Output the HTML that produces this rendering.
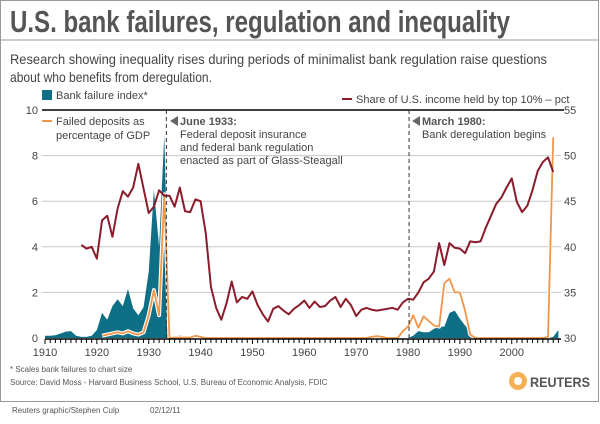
<!DOCTYPE html>
<html><head><meta charset="utf-8"><style>
body{margin:0;width:600px;height:419px;background:#fff;font-family:"Liberation Sans",sans-serif;overflow:hidden}
</style></head><body>
<svg width="600" height="419" viewBox="0 0 600 419" xmlns="http://www.w3.org/2000/svg" font-family="Liberation Sans, sans-serif">
<rect x="0.5" y="0.5" width="598" height="401" fill="#fff" stroke="#999"/>
<text x="10" y="32" font-size="31" font-weight="bold" fill="#555" textLength="500" lengthAdjust="spacingAndGlyphs">U.S. bank failures, regulation and inequality</text>
<line x1="1" y1="40" x2="598" y2="40" stroke="#999"/>
<text x="10" y="64" font-size="14" fill="#444" textLength="537" lengthAdjust="spacingAndGlyphs">Research showing inequality rises during periods of minimalist bank regulation raise questions</text>
<text x="10" y="82" font-size="14" fill="#444" textLength="202" lengthAdjust="spacingAndGlyphs">about who benefits from deregulation.</text>
<g id="grid"></g>
<g id="marks"></g>
<g id="axes"></g>
<rect x="42" y="90" width="10" height="10" fill="#0e6f86"/>
<text x="56" y="99" font-size="11" fill="#444">Bank failure index*</text>
<line x1="42" y1="121" x2="52" y2="121" stroke="#f0964a" stroke-width="2"/>
<text x="56" y="125" font-size="11" fill="#444">Failed deposits as</text>
<text x="56" y="139" font-size="11" fill="#444">percentage of GDP</text>
<line x1="342" y1="99" x2="352" y2="99" stroke="#8b1c2c" stroke-width="2"/>
<text x="356" y="103" font-size="11" fill="#444">Share of U.S. income held by top 10% – pct</text>
<polygon points="170,121 178,116 178,126" fill="#666"/>
<text x="180" y="125" font-size="11" font-weight="bold" fill="#555">June 1933:</text>
<text x="180" y="138" font-size="11" fill="#444">Federal deposit insurance</text>
<text x="180" y="151" font-size="11" fill="#444">and federal bank regulation</text>
<text x="180" y="164" font-size="11" fill="#444">enacted as part of Glass-Steagall</text>
<polygon points="412,121 420,116 420,126" fill="#666"/>
<text x="422" y="125" font-size="11" font-weight="bold" fill="#555">March 1980:</text>
<text x="422" y="138" font-size="11" fill="#444">Bank deregulation begins</text>
<text x="10" y="372" font-size="8" fill="#555">* Scales bank failures to chart size</text>
<text x="10" y="385" font-size="8" fill="#555">Source: David Moss - Harvard Business School, U.S. Bureau of Economic Analysis, FDIC</text>
<circle cx="518" cy="381" r="9" fill="#f5a33a" opacity="0.85"/>
<circle cx="518" cy="381" r="4" fill="#fff"/>
<text x="530" y="387" font-size="14" font-weight="bold" fill="#555" textLength="60" lengthAdjust="spacingAndGlyphs">REUTERS</text>
<text x="12" y="413" font-size="8" fill="#555">Reuters graphic/Stephen Culp</text>
<text x="150" y="413" font-size="8" fill="#555">02/12/11</text>
</svg>
<script>
const incomeYears=[];for(let y=1917;y<=2008;y++)incomeYears.push(y);
const incomeShare=[40.2,39.8,40.0,38.7,42.9,43.4,41.1,44.2,46.1,45.5,46.5,49.1,46.4,43.7,44.4,46.2,45.6,45.6,44.4,46.5,43.9,43.8,45.2,45.0,41.5,35.6,33.3,32.0,33.8,36.2,33.9,34.5,34.3,35.1,33.6,32.6,31.8,33.2,33.5,33.0,32.6,33.2,33.6,
34.1,33.3,34.0,33.4,33.5,34.1,34.5,33.4,34.3,33.6,32.4,33.1,33.3,33.1,33.0,33.1,33.2,33.3,33.1,33.9,34.3,34.2,35.0,36.1,36.5,37.3,40.4,38.0,40.4,39.9,39.8,39.3,40.6,40.5,40.6,42.1,43.4,44.7,45.4,46.5,47.5,44.9,43.8,44.5,46.2,48.3,49.3,49.8,48.2];
const bankYears=[];for(let y=1910;y<=2009;y++)bankYears.push(y);
const bankFailure=[0.1,0.1,0.12,0.2,0.28,0.3,0.1,0.05,0.05,0.1,0.35,1.1,0.8,1.4,1.7,1.4,2.15,1.3,1.0,1.35,2.9,6.5,4.0,8.9,0.05,0.1,0.12,0.1,0.08,0.1,0.05,
0,0,0,0,0,0,0,0,0,0,0,0,0,0,0,0,0,0,0,0,0,0,0,0,0,0,0,0,0,0,0,0,0,0,0,0,0,0,0,0,
0.1,0.3,0.25,0.25,0.4,0.5,0.5,1.1,1.2,0.85,0.55,0.3,0.05,0,0,0,0,0,0,0,0,0,0,0,0,0,0,0.05,0.35];
const depYears=[];for(let y=1921;y<=2009;y++)depYears.push(y);
const failedDeposits=[0.1,0.15,0.2,0.25,0.2,0.3,0.2,0.15,0.25,1.0,2.1,1.0,6.3,0,0.02,0.02,0.02,0.02,0.1,0.05,
0,0,0,0,0,0,0,0,0,0,0,0,0,0,0,0,0,0,0,0,0,0,0,0,0,0,0,0,0,0,0,0,0.05,0.08,0.05,0,0,0,
0.3,0.5,1.0,0.45,0.95,0.75,0.55,0.5,2.4,2.6,2.0,2.0,1.2,0.15,0,0,0,0,0,0,0,0,0,0,0,0,0,0,0.05,8.8];
const leftTicks=[0,2,4,6,8,10];
const rightTicks=[30,35,40,45,50,55];
const xLabels=[1910,1920,1930,1940,1950,1960,1970,1980,1990,2000];
const NS='http://www.w3.org/2000/svg';
const X0=45,X1=561,Y0=338,Y1=110;
function x(yr){return X0+(yr-1910)*(X1-X0)/99.5;}
function yL(v){return Y0-v*(Y0-Y1)/10;}
function yR(v){return Y0-(v-30)*(Y0-Y1)/25;}
function mk(tag,attrs,parent){const e=document.createElementNS(NS,tag);for(const k in attrs)e.setAttribute(k,attrs[k]);parent.appendChild(e);return e;}
const gridG=document.getElementById('grid'),marksG=document.getElementById('marks'),axesG=document.getElementById('axes');
leftTicks.forEach(t=>{
  if(t>0&&t<10){const g=mk('line',{x1:X0-3,x2:X1,y1:yL(t),y2:yL(t),stroke:'#c8c8c8','stroke-width':1},gridG);
  
  }
  const l=mk('text',{x:38,y:yL(t)+4,'font-size':11,fill:'#444','text-anchor':'end'},axesG);l.textContent=t;
  
  
});
rightTicks.forEach(t=>{
  const l=mk('text',{x:564,y:yR(t)+4,'font-size':11,fill:'#444'},axesG);l.textContent=t;
  
  
});
const topLine=mk('line',{x1:X0-3,x2:X1+3,y1:Y1,y2:Y1,stroke:'#000','stroke-width':1.5},axesG);


let d='M'+x(bankYears[0])+','+yL(0);
bankYears.forEach((yr,i)=>{d+=' L'+x(yr)+','+yL(bankFailure[i]);});
d+=' L'+x(bankYears[bankYears.length-1])+','+yL(0)+' Z';
const area=mk('path',{d:d,fill:'#0e6f86'},marksG);


const dp=depYears.map((yr,i)=>x(yr)+','+yL(failedDeposits[i])).join(' ');
const halo=mk('polyline',{points:dp,fill:'none',stroke:'#fff','stroke-width':4,'stroke-linejoin':'round'},marksG);


const dl=mk('polyline',{points:dp,fill:'none',stroke:'#f0964a','stroke-width':1.8,'stroke-linejoin':'round'},marksG);


const ip=incomeYears.map((yr,i)=>x(yr)+','+yR(incomeShare[i])).join(' ');
const il=mk('polyline',{points:ip,fill:'none',stroke:'#8b1c2c','stroke-width':2,'stroke-linejoin':'round'},marksG);


[1933.4,1980.2].forEach(yr=>{
  const v=mk('line',{x1:x(yr),x2:x(yr),y1:Y1,y2:Y0,stroke:'#333','stroke-width':1,'stroke-dasharray':'4,3'},axesG);
  
  
});
const xa=mk('line',{x1:X0,x2:X1,y1:Y0+1,y2:Y0+1,stroke:'#000','stroke-width':1.5},axesG);


for(let yr=1910;yr<=2009;yr++){
  const t=mk('line',{x1:x(yr),x2:x(yr),y1:Y0+1,y2:Y0+(yr%10===0?6:5),stroke:'#000','stroke-width':1},axesG);
  
  
}
xLabels.forEach(yr=>{
  const l=mk('text',{x:x(yr),y:Y0+18,'font-size':11,fill:'#444','text-anchor':'middle'},axesG);l.textContent=yr;
  
  
});
</script>
</body></html>
